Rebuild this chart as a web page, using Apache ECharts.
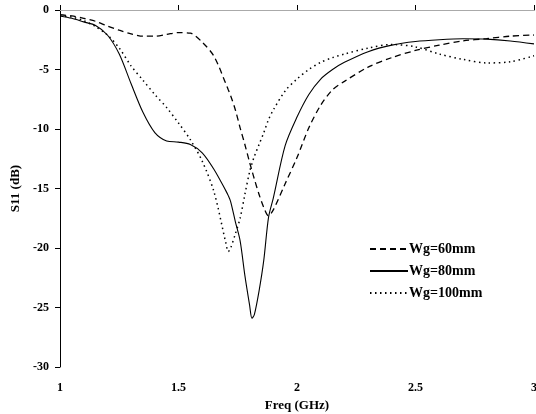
<!DOCTYPE html>
<html>
<head>
<meta charset="utf-8">
<script src="https://cdn.jsdelivr.net/npm/echarts@6/dist/echarts.min.js"></script>
<style>
html,body{margin:0;padding:0;background:#fff;}
#chart{width:536px;height:414px;}
</style>
</head>
<body>
<div id="chart"></div>
<script>
// Frequency (GHz)
const freq = [1.00,1.05,1.10,1.15,1.20,1.25,1.30,1.35,1.40,1.45,1.50,1.55,1.60,1.65,1.70,1.71,1.72,1.74,1.76,1.78,1.80,1.81,1.82,1.84,1.86,1.88,1.90,1.95,2.00,2.05,2.10,2.15,2.20,2.30,2.40,2.50,2.60,2.70,2.80,2.90,3.00];
// S11 (dB), Wg = 60 mm
const wg60 = [-0.4,-0.5,-0.7,-0.95,-1.35,-1.7,-2.0,-2.2,-2.2,-2.05,-1.9,-1.95,-2.7,-3.9,-6.2,-6.7,-7.2,-8.4,-9.9,-11.3,-12.8,-13.5,-14.2,-15.5,-16.6,-17.3,-16.8,-14.6,-12.4,-9.9,-8.0,-6.7,-6.0,-4.8,-4.0,-3.4,-2.95,-2.6,-2.4,-2.2,-2.1];
// S11 (dB), Wg = 80 mm
const wg80 = [-0.5,-0.7,-1.0,-1.3,-2.1,-3.7,-6.2,-8.6,-10.3,-11.0,-11.1,-11.3,-12.0,-13.4,-15.2,-15.6,-16.1,-17.8,-19.4,-22.3,-24.8,-25.9,-25.6,-23.6,-21.0,-17.4,-15.8,-11.4,-9.0,-7.1,-5.8,-5.0,-4.4,-3.5,-2.95,-2.65,-2.5,-2.42,-2.45,-2.6,-2.85];
// S11 (dB), Wg = 100 mm
const wg100 = [-0.5,-0.6,-0.9,-1.4,-2.1,-3.2,-4.7,-5.9,-7.1,-8.2,-9.5,-10.9,-12.7,-15.3,-19.6,-20.3,-20.0,-18.8,-17.5,-15.5,-13.6,-12.9,-12.3,-11.3,-10.3,-9.2,-8.4,-6.8,-5.8,-5.0,-4.4,-4.0,-3.7,-3.2,-2.9,-3.1,-3.7,-4.15,-4.45,-4.35,-3.85];
const seriesNames = ['Wg=60mm','Wg=80mm','Wg=100mm'];

const font = "'Liberation Serif','Times New Roman',serif";
const zip = (v) => freq.map((f, i) => [f, v[i]]);

const chart = echarts.init(document.getElementById('chart'), null, {renderer: 'canvas'});
chart.setOption({
  animation: false,
  backgroundColor: '#fff',
  textStyle: {fontFamily: font},
  grid: {left: 60, top: 10, right: 2, bottom: 47, containLabel: false, outerBoundsMode: 'none'},
  legend: {
    left: 364, top: 237, orient: 'vertical', itemGap: 8,
    itemWidth: 38, itemHeight: 12,
    itemStyle: {opacity: 0},
    textStyle: {fontFamily: font, fontWeight: 'bold', fontSize: 14, color: '#000', padding: [0,0,0,-4]},
    data: seriesNames
  },
  xAxis: [{
    type: 'value', min: 1, max: 3, interval: 0.5,
    name: 'Freq (GHz)', nameLocation: 'middle', nameGap: 27,
    nameTextStyle: {fontFamily: font, fontWeight: 'bold', fontSize: 13, color: '#000'},
    axisLine: {lineStyle: {color: '#000', width: 1}},
    axisTick: {inside: true, length: 5, lineStyle: {color: '#000'}},
    axisLabel: {fontFamily: font, fontWeight: 'bold', fontSize: 12, color: '#000', margin: 15,
      formatter: v => String(v)},
    splitLine: {show: false}
  }, {
    type: 'value', min: 1, max: 3, position: 'top',
    axisLine: {show: true, lineStyle: {color: '#aaa', width: 1}},
    axisTick: {show: false}, axisLabel: {show: false}, splitLine: {show: false}
  }],
  yAxis: {
    type: 'value', min: -30, max: 0, interval: 5,
    name: 'S11 (dB)', nameLocation: 'middle', nameGap: 38, nameRotate: 90,
    nameTextStyle: {fontFamily: font, fontWeight: 'bold', fontSize: 13, color: '#000'},
    axisLine: {show: true, lineStyle: {color: '#000', width: 1}},
    axisTick: {show: true, inside: false, length: 5, lineStyle: {color: '#000'}},
    axisLabel: {fontFamily: font, fontWeight: 'bold', fontSize: 12, color: '#000', margin: 11},
    splitLine: {show: false}
  },
  series: [
    {name: seriesNames[0], type: 'line', data: zip(wg60), symbol: 'none', smooth: 0.3,
      lineStyle: {color: '#000', width: 1.3, type: [6,4]}, itemStyle: {color: '#000'}},
    {name: seriesNames[1], type: 'line', data: zip(wg80), symbol: 'none', smooth: 0.3,
      lineStyle: {color: '#000', width: 1.1, type: 'solid'}, itemStyle: {color: '#000'}},
    {name: seriesNames[2], type: 'line', data: zip(wg100), symbol: 'none', smooth: 0.3,
      lineStyle: {color: '#000', width: 1.5, type: [1.5,3.5]}, itemStyle: {color: '#000'}}
  ]
});
</script>
</body>
</html>
